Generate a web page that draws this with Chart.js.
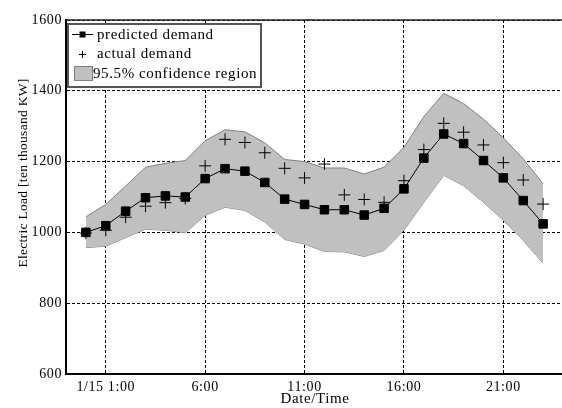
<!DOCTYPE html>
<html>
<head>
<meta charset="utf-8">
<script src="https://cdn.jsdelivr.net/npm/chart.js@4"></script>
<style>
  html, body { margin: 0; padding: 0; background: #fff; overflow: hidden; }
  #wrap { width: 570px; height: 408px; }
</style>
</head>
<body>
<div id="wrap"><canvas id="chart" width="570" height="408"></canvas></div>
<script>
'use strict'

// ---------------- data ----------------
var hours = [0, 1, 2, 3, 4, 5, 6, 7, 8, 9, 10, 11, 12, 13, 14, 15, 16, 17, 18, 19, 20, 21, 22, 23];
var predicted = [1000, 1019, 1060, 1098, 1103, 1100, 1152, 1180, 1173, 1141, 1094, 1079,
                 1064, 1064, 1049, 1068, 1123, 1210, 1278, 1251, 1203, 1154, 1090, 1024];
var actual = [998, 1006, 1043, 1074, 1084, 1096, 1188, 1263, 1254, 1225, 1181, 1154,
              1193, 1106, 1093, 1085, 1146, 1234, 1308, 1283, 1247, 1197, 1148, 1080];
var upper = [1044, 1079, 1131, 1184, 1195, 1203, 1259, 1290, 1284, 1253, 1206, 1200,
             1182, 1182, 1165, 1184, 1240, 1327, 1393, 1364, 1320, 1267, 1208, 1137];
var lower = [957, 961, 985, 1009, 1006, 999, 1048, 1071, 1062, 1029, 980, 967,
             946, 945, 932, 949, 1006, 1085, 1161, 1132, 1085, 1034, 977, 913];
var tickHours = [1, 6, 11, 16, 21];
var tickLabels = ['1/15 1:00', '6:00', '11:00', '16:00', '21:00'];
var yTicks = [600, 800, 1000, 1200, 1400, 1600];

var FONT = '"Liberation Serif", "Times New Roman", serif';

function pts(values) {
  return values.map(function (v, i) { return { x: hours[i], y: v }; });
}

//------------- custom legend, frame and axis titles -------------//
var extras = {
  id: 'extras',
  beforeDraw: function (chart) {
    chart.ctx.letterSpacing = '0.6px';
  },
  afterDraw: function (chart) {
    var ctx = chart.ctx;
    var area = chart.chartArea;
    ctx.save();

    // top frame line
    ctx.strokeStyle = '#222';
    ctx.lineWidth = 1.5;
    ctx.beginPath();
    ctx.moveTo(area.left, area.top);
    ctx.lineTo(area.right, area.top);
    ctx.stroke();

    // legend box
    ctx.fillStyle = '#fff';
    ctx.fillRect(67, 23, 195, 65);
    ctx.strokeStyle = '#555';
    ctx.lineWidth = 2;
    ctx.strokeRect(68, 24, 193, 63);

    // row 1: predicted
    ctx.strokeStyle = '#000';
    ctx.lineWidth = 1;
    ctx.beginPath();
    ctx.moveTo(72, 34.5);
    ctx.lineTo(93, 34.5);
    ctx.stroke();
    ctx.fillStyle = '#000';
    ctx.fillRect(79.5, 31.5, 6, 6);

    // row 2: actual
    ctx.beginPath();
    ctx.moveTo(79, 54.5);
    ctx.lineTo(86, 54.5);
    ctx.moveTo(82.5, 51);
    ctx.lineTo(82.5, 58);
    ctx.stroke();

    // row 3: band
    ctx.fillStyle = '#c0c0c0';
    ctx.fillRect(74, 66, 19, 15);
    ctx.strokeStyle = '#808080';
    ctx.strokeRect(74.5, 66.5, 18, 14);

    ctx.fillStyle = '#000';
    ctx.font = '15px ' + FONT;
    ctx.textAlign = 'left';
    ctx.textBaseline = 'middle';
    ctx.fillText('predicted demand', 97, 35);
    ctx.fillText('actual demand', 97, 54);
    ctx.fillText('95.5% confidence region', 93, 74);

    // axis titles
    ctx.textAlign = 'center';
    ctx.fillText('Date/Time', 315, 399);
    ctx.translate(23, 173);
    ctx.rotate(-Math.PI / 2);
    ctx.letterSpacing = '0.3px';
    ctx.font = '13.5px ' + FONT;
    ctx.fillText('Electric Load [ten thousand KW]', 0, 0);
    ctx.restore();
  }
};

//------------------ chart ------------------//
var ctx = document.getElementById('chart').getContext('2d');
var loadChart = new Chart(ctx, {
  type: 'line',
  data: {
    datasets: [{
      label: 'predicted demand',
      data: pts(predicted),
      borderColor: '#000',
      borderWidth: 1,
      pointStyle: 'rect',
      pointRadius: 6,
      pointBorderWidth: 1,
      pointBackgroundColor: '#000',
      pointBorderColor: '#000',
      fill: false,
      order: 0
    }, {
      label: 'actual demand',
      data: pts(actual),
      showLine: false,
      pointStyle: 'cross',
      pointRadius: 6,
      pointBorderWidth: 1,
      pointBorderColor: '#000',
      order: 1
    }, {
      label: 'upper',
      data: pts(upper),
      borderColor: '#808080',
      borderWidth: 1,
      pointRadius: 0,
      backgroundColor: '#c0c0c0',
      fill: '+1',
      order: 2
    }, {
      label: 'lower',
      data: pts(lower),
      borderColor: '#808080',
      borderWidth: 1,
      pointRadius: 0,
      fill: false,
      order: 3
    }]
  },
  options: {
    responsive: false,
    animation: false,
    devicePixelRatio: 1,
    layout: { padding: { top: 20, right: 6, left: 0, bottom: 0 } },
    plugins: {
      legend: { display: false },
      tooltip: { enabled: false }
    },
    elements: { line: { tension: 0 } },
    scales: {
      x: {
        type: 'linear',
        min: -1,
        max: 24,
        afterBuildTicks: function (scale) {
          scale.ticks = tickHours.map(function (h) { return { value: h }; });
        },
        afterFit: function (scale) { scale.height = 34; },
        ticks: {
          padding: 5,
          color: '#000',
          font: { family: FONT, size: 14 },
          maxRotation: 0,
          autoSkip: false,
          callback: function (value) {
            var i = tickHours.indexOf(value);
            return i >= 0 ? tickLabels[i] : '';
          }
        },
        grid: { color: '#000', lineWidth: 1, drawTicks: false },
        border: { display: true, color: '#000', width: 2, dash: [3, 2] }
      },
      y: {
        min: 600,
        max: 1600,
        afterBuildTicks: function (scale) {
          scale.ticks = yTicks.map(function (v) { return { value: v }; });
        },
        afterFit: function (scale) { scale.width = 66; },
        ticks: {
          padding: 4,
          color: '#000',
          font: { family: FONT, size: 14 },
          callback: function (value) { return String(value); }
        },
        grid: { color: '#000', lineWidth: 1, drawTicks: false },
        border: { display: true, color: '#000', width: 2, dash: [3, 2] }
      }
    }
  },
  plugins: [extras]
});
</script>
</body>
</html>
